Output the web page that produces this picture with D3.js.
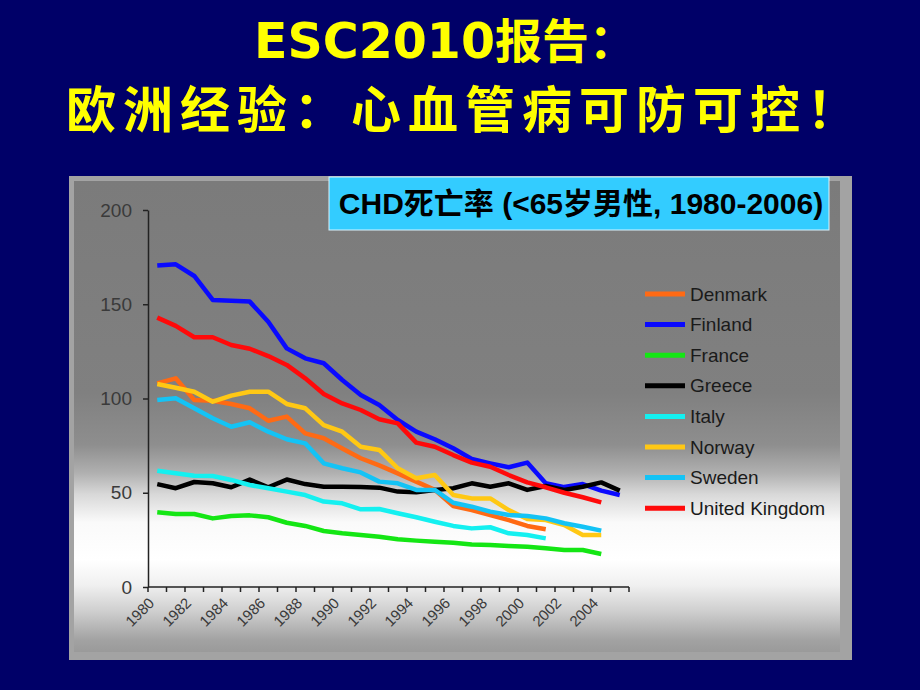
<!DOCTYPE html>
<html><head><meta charset="utf-8">
<script src="https://cdn.jsdelivr.net/npm/d3@7/dist/d3.min.js"></script>
<style>
html,body{margin:0;padding:0;background:#000068;}
svg{display:block;}
</style></head>
<body>
<svg id="chart" width="920" height="690"></svg>
<script>
const years = d3.range(1980, 2006);
const tickYears = ["1980","1982","1984","1986","1988","1990","1992","1994","1996","1998","2000","2002","2004"];
const yTicks = [0, 50, 100, 150, 200];
const seriesNames = ["Denmark","Finland","France","Greece","Italy","Norway","Sweden","United Kingdom"];
const seriesColors = ["#ff6a14","#0a0aff","#14e614","#000000","#14f0f0","#ffc814","#14c3f5","#ff0a0a"];

const denmark = [108,110.7,99.2,98.8,97.1,94.8,88.2,90.4,81.5,78.9,73.5,68.3,64.5,60.3,55.9,51.5,43,40.8,38.2,35.5,32.4,30.6,null,null,null,null];
const finland = [170.5,171.2,165,152.3,151.9,151.4,140.7,126.6,121.3,118.7,109.8,101.9,96.6,88.6,82.4,78.4,73.6,67.9,65.6,63.5,66,55,53,54.6,51.1,48.8];
const france  = [39.6,38.7,38.7,36.4,37.7,38,37,34.1,32.4,29.7,28.5,27.6,26.7,25.3,24.6,24,23.5,22.6,22.3,21.8,21.4,20.5,19.6,19.6,17.5,null];
const greece  = [54.6,52.4,55.7,55,52.9,57,52.9,57,54.6,53.2,53.2,53,52.7,50.6,50.2,51.5,52.4,55,53.2,55,51.5,53.6,51.5,53.2,55.5,51.1];
const italy   = [61.7,60.3,59,58.9,56.8,54.1,52.4,50.6,48.8,45.3,44.4,41.2,41.4,39.1,37,34.6,32.4,31.1,31.7,28.5,27.6,25.8,null,null,null,null];
const norway  = [107.7,105.7,103.6,98.3,101.5,103.6,103.6,97.1,94.8,85.9,82.4,74.4,72.7,63,57.7,59.4,48.8,47,47,40.8,36.1,35.5,32.9,27.6,27.6,null];
const sweden  = [99.2,100.1,94.8,89.5,85,87.4,82.4,78.4,76.2,65.6,63,60.8,55.9,55,51.5,51.5,44.7,42.6,40,38.2,37.7,36.4,33.8,32,29.9,null];
const uk      = [142.9,138.5,132.5,132.5,128.4,126.4,122.5,117.8,110.7,102.4,97.4,93.9,89,86.8,76.6,74.4,70,66,63.8,59.4,55.5,52.9,50,47.6,44.9,null];
const seriesValues = [denmark, finland, france, greece, italy, norway, sweden, uk];

const svg = d3.select("#chart");

// Title
const t1 = svg.append("text").attr("x", 445).attr("y", 58).attr("text-anchor","middle")
  .attr("font-weight","bold").attr("fill","#ffff00");
t1.append("tspan").attr("font-family","'DejaVu Sans',sans-serif").attr("font-size",49).text("ESC2010");
t1.append("tspan").attr("font-family","'Noto Sans CJK SC',sans-serif").attr("font-size",47).text("报告：");
svg.append("text").attr("x", 465).attr("y", 128).attr("text-anchor","middle")
  .attr("font-family", "'Noto Sans CJK SC',sans-serif").attr("font-weight","bold").attr("font-size", 50)
  .attr("letter-spacing", 7)
  .attr("fill","#ffff00").text("欧洲经验：心血管病可防可控！");

// Panel
const defs = svg.append("defs");
const grad = defs.append("linearGradient").attr("id","bg").attr("x1",0).attr("y1",0).attr("x2",0).attr("y2",1);
[[0,"#7b7b7b"],[0.45,"#808080"],[0.56,"#8e8e8e"],[0.62,"#b0b0b0"],[0.665,"#d8d8d8"],[0.725,"#fafafa"],[0.805,"#ffffff"],[0.858,"#f0f0f0"],[0.911,"#d0d0d0"],[0.975,"#a2a2a2"],[1,"#9a9a9a"]]
  .forEach(s => grad.append("stop").attr("offset", s[0]).attr("stop-color", s[1]));
svg.append("rect").attr("x",69).attr("y",176).attr("width",783).attr("height",484).attr("fill","#a3a3a3");
svg.append("rect").attr("x",74).attr("y",181).attr("width",766).attr("height",471).attr("fill","url(#bg)");

// Scales
const x = d3.scaleBand().domain(years).range([148, 629]).padding(0);
const y = d3.scaleLinear().domain([0, 200]).range([587, 210]);

// Y axis
const yAxis = svg.append("g").attr("transform","translate(148,0)")
  .call(d3.axisLeft(y).tickValues(yTicks).tickSize(5).tickPadding(11).tickSizeOuter(0));
yAxis.select(".domain").attr("stroke","#222").attr("stroke-width",1.5);
yAxis.selectAll(".tick line").attr("stroke","#222").attr("stroke-width",1.5);
yAxis.selectAll("text").attr("font-family","'Liberation Sans',Arial,sans-serif").attr("font-size",19).attr("fill","#3a3a3a");

// X axis
const xg = svg.append("g").attr("transform","translate(0,587)");
xg.append("line").attr("x1",148).attr("x2",629).attr("y1",0).attr("y2",0).attr("stroke","#222").attr("stroke-width",1.5);
const boundaries = years.map(yr => x(yr)).concat([x(years[years.length-1]) + x.bandwidth()]);
xg.selectAll("line.tk").data(boundaries).join("line").attr("class","tk")
  .attr("x1", d => d).attr("x2", d => d).attr("y1", 0).attr("y2", 5)
  .attr("stroke","#222").attr("stroke-width",1.5);
xg.selectAll("text").data(tickYears).join("text")
  .attr("transform", d => `translate(${x(+d) + x.bandwidth()/2 - 2},${17}) rotate(-45)`)
  .attr("text-anchor","end").attr("font-family","'Liberation Sans',Arial,sans-serif")
  .attr("font-size",15).attr("fill","#3a3a3a").text(d => d);

// Lines
const line = d3.line().defined(d => d.v !== null)
  .x(d => x(d.yr) + x.bandwidth()/2).y(d => y(d.v));
seriesValues.forEach((vals, i) => {
  const data = years.map((yr, j) => ({yr, v: vals[j]}));
  svg.append("path").datum(data).attr("d", line).attr("fill","none")
    .attr("stroke", seriesColors[i]).attr("stroke-width",4.5).attr("stroke-linejoin","round");
});

// Legend
const lg = svg.append("g");
seriesNames.forEach((name, i) => {
  const ly = 294 + i * 30.6;
  lg.append("line").attr("x1",645).attr("x2",685).attr("y1",ly).attr("y2",ly)
    .attr("stroke", seriesColors[i]).attr("stroke-width",5);
  lg.append("text").attr("x",690).attr("y",ly).attr("dy","0.35em")
    .attr("font-family","'Liberation Sans',Arial,sans-serif").attr("font-size",19)
    .attr("fill","#1a1a1a").text(name);
});

// Subtitle box
svg.append("rect").attr("x",329).attr("y",177).attr("width",500).attr("height",53)
  .attr("fill","#33ccff").attr("stroke","#d8f4ff").attr("stroke-width",1);
svg.append("text").attr("x",581).attr("y",214).attr("text-anchor","middle")
  .attr("font-family","'Liberation Sans','Noto Sans CJK SC',Arial,sans-serif").attr("font-weight","bold")
  .attr("font-size",30).attr("fill","#000").text("CHD死亡率 (<65岁男性, 1980-2006)");
</script>
</body></html>
